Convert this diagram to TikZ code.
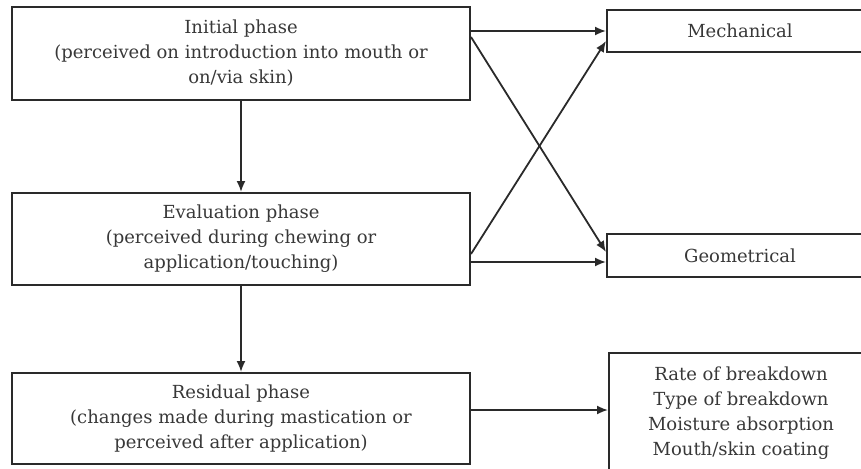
\documentclass[tikz,border=0pt]{standalone}
\usepackage{fontspec}
\setmainfont{DejaVu Serif}
\usetikzlibrary{arrows.meta}
\definecolor{ink}{HTML}{2A2A2A}
\definecolor{txt}{HTML}{383838}
\tikzset{
  box/.style={draw=ink, line width=2pt, rectangle, align=center, inner sep=0pt,
    text=txt, font=\fontsize{18}{25}\selectfont},
  arr/.style={draw=ink, line width=1.8pt, -{Latex[length=11pt,width=9pt]}}
}
\begin{document}
\begin{tikzpicture}[x=1pt,y=-1pt]
\useasboundingbox (0,0) rectangle (861,468);
\node[box, minimum width=458pt, minimum height=93pt] (b1) at (241,53.5)
  {Initial phase\\(perceived on introduction into mouth or\\on/via skin)};
\node[box, minimum width=458pt, minimum height=92pt] (b2) at (241,239)
  {Evaluation phase\\(perceived during chewing or\\application/touching)};
\node[box, minimum width=458pt, minimum height=91pt] (b3) at (241,418.5)
  {Residual phase\\(changes made during mastication or\\perceived after application)};
\node[box, minimum width=266pt, minimum height=42pt] (mech) at (740,31) {Mechanical};
\node[box, minimum width=266pt, minimum height=43pt] (geo) at (740,255.5) {Geometrical};
\node[box, minimum width=264pt, minimum height=120pt] (res) at (741,413)
  {Rate of breakdown\\Type of breakdown\\Moisture absorption\\Mouth/skin coating};
\draw[arr] (b1.south) -- (b2.north);
\draw[arr] (b2.south) -- (b3.north);
\draw[arr] (b1.east |- mech.west) -- (mech.west);
\draw[arr] ([yshift=-31pt]b1.north east) -- ([yshift=-19pt]geo.north west);
\draw[arr] ([yshift=-62pt]b2.north east) -- ([yshift=-32pt]mech.north west);
\draw[arr] ([yshift=-70pt]b2.north east) -- ([yshift=-29pt]geo.north west);
\draw[arr] ([yshift=-38pt]b3.north east) -- ([yshift=-58pt]res.north west);
\end{tikzpicture}
\end{document}
